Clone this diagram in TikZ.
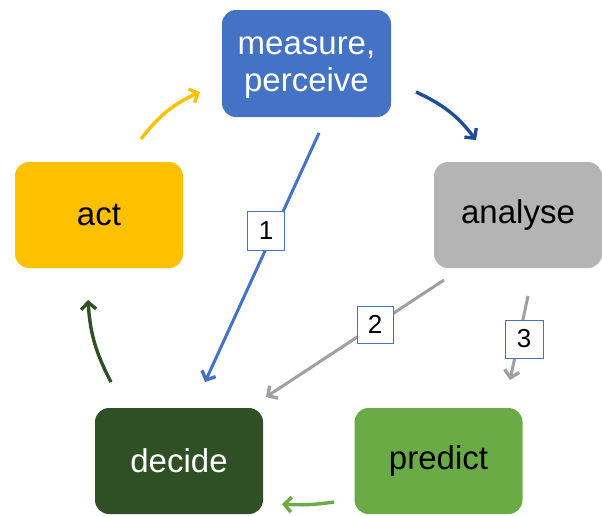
\documentclass[tikz,border=0pt]{standalone}
\usepackage{fontspec}
\setmainfont{Liberation Sans}
\usetikzlibrary{arrows.meta}
\definecolor{cblue}{HTML}{4472C4}
\definecolor{cdblue}{HTML}{1F4E99}
\definecolor{cgrayb}{HTML}{B4B4B4}
\definecolor{cgrayl}{HTML}{A0A0A0}
\definecolor{cyel}{HTML}{FFC000}
\definecolor{cdgreen}{HTML}{2F5024}
\definecolor{cgreen}{HTML}{6AAB45}
\begin{document}
\begin{tikzpicture}[x=1pt,y=-1pt,
  stepbox/.style={rounded corners=14pt, minimum width=168pt, minimum height=106pt, inner sep=0pt, align=center, font=\fontsize{33}{36}\selectfont},
  numbox/.style={draw=cblue, line width=1pt, fill=white, text=black, minimum width=37pt, minimum height=39pt, inner sep=0pt, font=\fontsize{26}{28}\selectfont},
  conn/.style={line width=3.4pt, -{Straight Barb[length=7pt,width=15pt,line width=3.4pt]}}
]
\useasboundingbox (0,0) rectangle (602,515);
\node[stepbox, fill=cblue, minimum width=169pt, minimum height=107pt] (meas) at (306.5,63.5) {};
\node[align=center, text=white, inner sep=0pt, font=\fontsize{33}{37}\selectfont] (meast) at (306.5,68) {measure,\\perceive};
\node[stepbox, fill=cgrayb, text=black] (anal) at (518,215) {analyse};
\node[stepbox, fill=cyel, text=black] (act) at (99,215) {act};
\node[stepbox, fill=cdgreen, text=white] (dec) at (179,461) {decide};
\node[stepbox, fill=cgreen, text=black] (pred) at (438.5,461) {predict};

\coordinate (y1) at (141,139); \coordinate (y2) at (200,92);
\coordinate (b1) at (416,92); \coordinate (b2) at (476,140);
\coordinate (l1a) at (319,133); \coordinate (l1b) at (205,382);
\coordinate (l2a) at (444,280); \coordinate (l2b) at (266,397);
\coordinate (l3a) at (528,296); \coordinate (l3b) at (510,380);
\coordinate (g1) at (334,502); \coordinate (g2) at (282,504);
\coordinate (d1) at (111,382); \coordinate (d2) at (88,300);

\draw[conn, cyel] (y1) to[bend left=14] (y2);
\draw[conn, cdblue] (b1) to[bend left=14] (b2);
\draw[conn, cgreen] (g1) to[bend left=6] (g2);
\draw[conn, cdgreen] (d1) to[bend left=12] (d2);

\draw[conn, cblue, line width=3pt] (l1a) -- (l1b);
\draw[conn, cgrayl, line width=3pt] (l2a) -- (l2b);
\draw[conn, cgrayl, line width=3pt] (l3a) -- (l3b);
\node[numbox] (n1) at (266,231) {1};
\node[numbox, minimum width=36pt, minimum height=37pt] (n2) at (375,324.5) {2};
\node[numbox, minimum width=38pt, minimum height=38pt] (n3) at (524,339) {3};
\end{tikzpicture}
\end{document}
